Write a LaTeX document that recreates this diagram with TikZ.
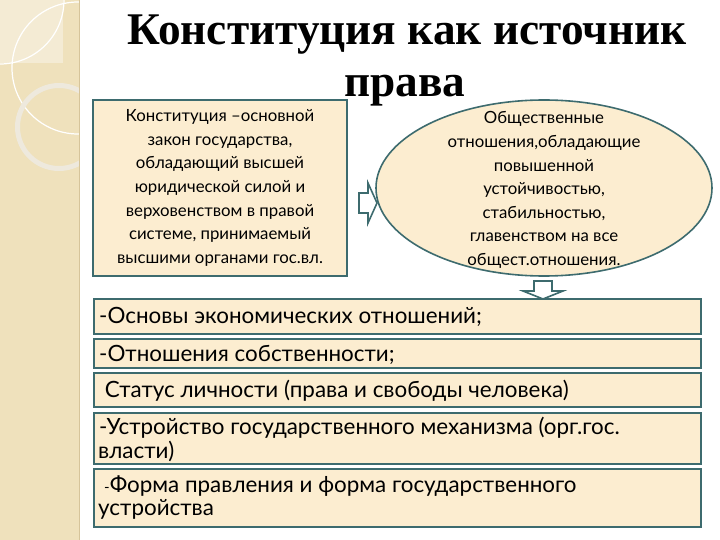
\documentclass[tikz,border=0pt]{standalone}
\usepackage{fontspec}
\setmainfont{Liberation Serif}
\newfontfamily\boxfont{Lato}
\usetikzlibrary{positioning,shapes.geometric}
\definecolor{strip}{HTML}{EFE1BC}
\definecolor{stripedge}{HTML}{D6C49A}
\definecolor{stripcorner}{HTML}{F4EBD4}
\definecolor{ringcol}{HTML}{EEE9DD}
\definecolor{paper}{HTML}{FCEDD0}
\definecolor{frame}{HTML}{3D6B6E}
\tikzset{
  box/.style={draw=frame, line width=1.6pt, fill=paper},
  listbox/.style={box, anchor=north west, minimum width=607pt, inner sep=0pt},
  listtext/.style={anchor=base west, inner sep=0pt, font=\boxfont\fontsize{22.4}{23}\selectfont},
  smalltext/.style={align=center, inner sep=0pt, font=\boxfont\fontsize{16.8}{23.6}\selectfont},
  titletext/.style={anchor=base, inner sep=0pt, font=\bfseries\fontsize{45.3}{50}\selectfont},
  blockarrow/.style={draw=frame, line width=1.6pt, fill=white, line join=miter}
}
\begin{document}
\begin{tikzpicture}[x=1pt,y=-1pt]
  \useasboundingbox (0,0) rectangle (720,540);
  % left decorative strip
  \fill[strip] (0,0) rectangle (80,540);
  \begin{scope}
    \clip (0,0) rectangle (79,540);
    \fill[stripcorner] (0,0) rectangle (63,63);
    \draw[white, line width=1.2pt] (78,68) circle (66);
    \draw[white, line width=1.2pt] (0,0) circle (64);
    \draw[ringcol, line width=5pt] (59,127) circle (41.5);
  \end{scope}
  \draw[stripedge, line width=1.5pt] (79.5,0) -- (79.5,540);

  % title
  \node[titletext] (title1) at (407,45) {Конституция как источник};
  \node[titletext] (title2) at (405,97) {права};

  % upper row
  \node[box, minimum width=254pt, minimum height=176pt] (constbox) at (220,188) {};
  \node[smalltext] (consttext) at (constbox.center) {Конституция –основной\\
    закон государства,\\ обладающий высшей\\ юридической силой и\\
    верховенством в правой\\ системе, принимаемый\\ высшими органами гос.вл.};
  \node[box, ellipse, minimum width=336pt, minimum height=176pt] (relations) at (544,188) {};
  \node[smalltext] (reltext) at (544,190) {Общественные\\ отношения,обладающие\\
    повышенной\\ устойчивостью,\\ стабильностью,\\ главенством на все\\
    общест.отношения.};

  % arrows
  \draw[blockarrow] (359,193) -- (368,193) -- (368,183) -- (377,203) -- (368,223)
    -- (368,213) -- (359,213) -- cycle;
  \draw[blockarrow] (534,281) -- (552,281) -- (552,291) -- (563,291) -- (543,299)
    -- (523,291) -- (534,291) -- cycle;

  % list of boxes
  \node[listbox, minimum height=35pt] (econ) at (93,298) {};
  \node[listbox, minimum height=29pt] (owner) at (93,338) {};
  \node[listbox, minimum height=34pt] (status) at (93,372) {};
  \node[listbox, minimum height=51pt] (mech) at (93,412) {};
  \node[listbox, minimum height=58pt] (form) at (93,468) {};

  \node[listtext] (econtext) at (99,323) {-Основы экономических отношений;};
  \node[listtext] (ownertext) at (99,361) {-Отношения собственности;};
  \node[listtext] (statustext) at (99,397) {\ Статус личности (права и свободы человека)};
  \node[listtext] (mechtext) at (99,434) {-Устройство государственного механизма (орг.гос.};
  \node[listtext] (mechtext2) at (98,458) {власти)};
  \node[listtext] (formtext) at (104,492) {{\fontsize{15}{23}\selectfont -}Форма правления и форма государственного};
  \node[listtext] (formtext2) at (98,515) {устройства};
\end{tikzpicture}
\end{document}
